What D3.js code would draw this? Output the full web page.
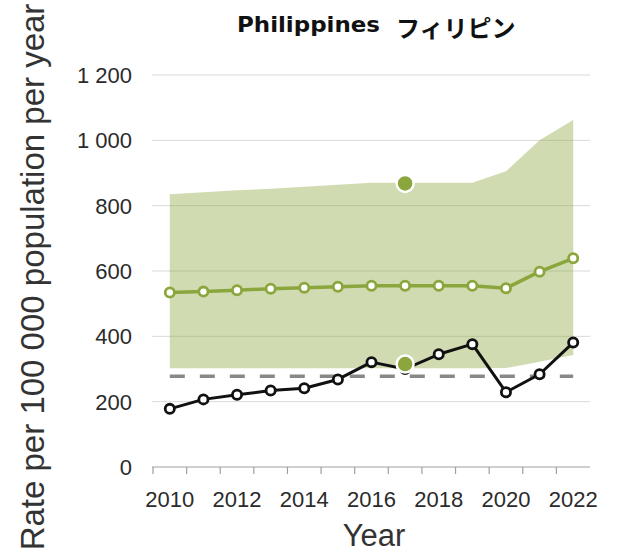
<!DOCTYPE html>
<html>
<head>
<meta charset="utf-8">
<script src="https://cdn.jsdelivr.net/npm/d3@7"></script>
<style>
    body { margin: 0; background: #fff; }
    svg { display: block; }
</style>
</head>
<body>
<svg id="chart" width="618" height="555"></svg>
<script>
// Data
const years = [2010, 2011, 2012, 2013, 2014, 2015, 2016, 2017, 2018, 2019, 2020, 2021, 2022];
const estimate = [534, 537, 541, 546, 549, 552, 555, 555, 555, 555, 547, 598, 639];
const upperBound = [835, 841, 847, 852, 858, 864, 870, 870, 870, 870, 905, 1000, 1062];
const lowerBound = [302, 302, 302, 302, 302, 302, 302, 302, 302, 302, 303, 322, 343];
const notified = [178, 207, 221, 234, 241, 268, 321, 300, 345, 376, 229, 284, 381];
const surveyYear = [2017];
const surveyBounds = [868, 315];
const referenceLevel = 278;
const yTicks = [0, 200, 400, 600, 800, 1000, 1200];
const xLabels = [2010, 2012, 2014, 2016, 2018, 2020, 2022];

const GREEN = '#8ba63c';

class ChartView {
    constructor() {
        this.svg = d3.select('#chart');
        this.x = d3.scaleBand().domain(years).range([153, 590]);
        this.y = d3.scaleLinear().domain([0, 1200]).range([467, 75]);
        this.fmt = d3.formatLocale({ decimal: '.', thousands: ' ', grouping: [3], currency: ['', ''] }).format(',d');
    }

    cx(year) {
        return this.x(year) + this.x.bandwidth() / 2;
    }

    init() {
        this.svg.selectAll('*').remove();
        this.addGrid();
        this.addArea();
        this.addAxes();
        this.addReference();
        this.addLine(estimate, GREEN, 3.5);
        this.addLine(notified, '#111', 3);
        this.addSurvey();
        this.addTitles();
    }

    addGrid() {
        // Horizontal grid lines (the zero line is the x axis)
        this.svg.append('g').attr('class', 'grid')
            .selectAll('line')
            .data(yTicks.filter(d => d > 0))
            .join('line')
            .attr('x1', 152)
            .attr('x2', 590)
            .attr('y1', d => this.y(d))
            .attr('y2', d => this.y(d))
            .attr('stroke', '#d9d9d9')
            .attr('stroke-width', 1);
    }

    addArea() {
        const area = d3.area()
            .x((d, i) => this.cx(years[i]))
            .y0((d, i) => this.y(lowerBound[i]))
            .y1(d => this.y(d));

        this.svg.append('path')
            .datum(upperBound)
            .attr('d', area)
            .attr('fill', GREEN)
            .attr('fill-opacity', 0.4);
    }

    addAxes() {
        const axis = this.svg.append('g').attr('class', 'x-axis');

        // Axis line
        axis.append('line')
            .attr('x1', 152)
            .attr('x2', 590)
            .attr('y1', this.y(0))
            .attr('y2', this.y(0))
            .attr('stroke', '#a0a0a0')
            .attr('stroke-width', 1.2);

        // Ticks on the band edges
        axis.selectAll('.tick')
            .data(years)
            .join('line')
            .attr('class', 'tick')
            .attr('x1', d => this.x(d))
            .attr('x2', d => this.x(d))
            .attr('y1', this.y(0))
            .attr('y2', this.y(0) + 7)
            .attr('stroke', '#a0a0a0')
            .attr('stroke-width', 1.2);

        axis.selectAll('text')
            .data(xLabels)
            .join('text')
            .attr('x', d => this.cx(d))
            .attr('y', 507)
            .attr('text-anchor', 'middle')
            .attr('fill', '#2b2b2b')
            .style('font-family', "'Liberation Sans', Arial, sans-serif")
            .style('font-size', '22px')
            .text(d => d);

        this.svg.append('g').attr('class', 'y-axis')
            .selectAll('text')
            .data(yTicks)
            .join('text')
            .attr('x', 132)
            .attr('y', d => this.y(d))
            .attr('dy', '0.36em')
            .attr('text-anchor', 'end')
            .attr('fill', '#2b2b2b')
            .style('font-family', "'Liberation Sans', Arial, sans-serif")
            .style('font-size', '22px')
            .text(d => this.fmt(d));
    }

    addReference() {
        this.svg.append('line')
            .attr('x1', this.cx(years[0]))
            .attr('x2', this.cx(years[years.length - 1]))
            .attr('y1', this.y(referenceLevel))
            .attr('y2', this.y(referenceLevel))
            .attr('stroke', '#888')
            .attr('stroke-width', 3.5)
            .attr('stroke-dasharray', '15,15');
    }

    addLine(values, color, width) {
        const line = d3.line()
            .x((d, i) => this.cx(years[i]))
            .y(d => this.y(d));

        const g = this.svg.append('g');

        g.append('path')
            .datum(values)
            .attr('d', line)
            .attr('fill', 'none')
            .attr('stroke', color)
            .attr('stroke-width', width)
            .attr('stroke-linejoin', 'round');

        g.selectAll('circle')
            .data(values)
            .join('circle')
            .attr('cx', (d, i) => this.cx(years[i]))
            .attr('cy', d => this.y(d))
            .attr('r', 4.6)
            .attr('fill', '#fff')
            .attr('stroke', color)
            .attr('stroke-width', 2.8);
    }

    addSurvey() {
        this.svg.append('g')
            .selectAll('circle')
            .data(surveyBounds)
            .join('circle')
            .attr('cx', this.cx(surveyYear[0]))
            .attr('cy', d => this.y(d))
            .attr('r', 8.5)
            .attr('fill', GREEN)
            .attr('stroke', '#fff')
            .attr('stroke-width', 2.5);
    }

    addTitles() {
        this.svg.append('text')
            .attr('x', 237)
            .attr('y', 32)
            .attr('fill', '#111')
            .style('font-family', "'DejaVu Sans', Verdana, sans-serif")
            .style('font-weight', 'bold')
            .style('font-size', '21px')
            .attr('textLength', 143)
            .attr('lengthAdjust', 'spacingAndGlyphs')
            .text('Philippines');

        this.svg.append('text')
            .attr('x', 396)
            .attr('y', 37)
            .attr('fill', '#111')
            .style('font-family', "'Noto Sans CJK JP', sans-serif")
            .style('font-weight', 'bold')
            .style('font-size', '24px')
            .text('フィリピン');

        this.svg.append('text')
            .attr('x', 374)
            .attr('y', 546)
            .attr('text-anchor', 'middle')
            .attr('fill', '#333')
            .style('font-family', "'Liberation Sans', Arial, sans-serif")
            .style('font-size', '31px')
            .text('Year');

        this.svg.append('text')
            .attr('transform', 'translate(44, 277) rotate(-90)')
            .attr('text-anchor', 'middle')
            .attr('fill', '#333')
            .style('font-family', "'Liberation Sans', Arial, sans-serif")
            .style('font-size', '33px')
            .text('Rate per 100 000 population per year');
    }
}

const chartView = new ChartView();
chartView.init();
</script>
</body>
</html>
